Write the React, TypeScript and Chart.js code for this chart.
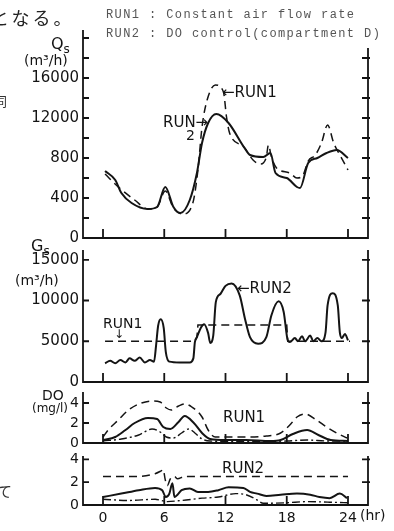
import React, { useEffect, useRef } from "react";
import { Chart, registerables } from "chart.js";

Chart.register(...registerables);

// ---------- data (hours of day) ----------
const X_TICKS = [0, 6, 12, 18, 24];
const X_LABELS = ["0", "6", "12", "18", "24"];

// Qs (m3/h)
const QS_Y_TICKS = [0, 4000, 8000, 12000, 16000];
const QS_Y_LABELS = ["0", "400", "800", "12000", "16000"];
const QS_MINOR = [2000, 4000, 6000, 8000, 10000, 12000, 14000, 16000, 18000, 20000];
const qsRun1Hours = [0.2, 1.5, 3.1, 4.4, 5.3, 6.1, 6.9, 7.8, 8.8, 9.3, 9.7, 10.2, 11, 11.8, 12.1, 12.4, 13.8, 14.7, 15.4, 16.0, 16.2, 16.5, 17, 18.3, 19, 19.6, 20.1, 20.8, 21.4, 22, 22.6, 23.1, 24];
const qsRun1 = [6400, 5100, 3800, 2900, 3100, 4700, 3000, 2400, 3500, 6800, 11100, 13800, 15300, 14600, 12100, 10500, 9100, 7800, 7400, 8100, 9300, 8100, 7000, 6500, 6000, 6300, 7700, 8300, 9500, 11300, 9500, 8500, 6800];
const qsRun2Hours = [0.2, 1.2, 1.8, 2.8, 4.4, 5.3, 6.1, 6.9, 7.6, 8.5, 9.2, 9.7, 10.3, 11.1, 12.3, 13.8, 14.4, 15.7, 16.4, 16.9, 18, 19, 19.3, 20.1, 21, 21.9, 22.9, 24];
const qsRun2 = [6700, 5800, 4500, 3500, 2900, 3100, 5100, 3100, 2500, 3800, 6500, 9500, 11500, 12400, 11500, 9100, 8300, 8100, 8500, 6500, 6000, 5100, 5000, 7500, 8000, 8500, 8800, 8000];

// Gs (m3/h)
const GS_Y_TICKS = [0, 5000, 10000, 15000];
const GS_Y_LABELS = ["0", "5000", "10000", "15000"];
const GS_MINOR = [5000, 10000, 15000];
const gsRun1Hours = [0.2, 9.0, 9.2, 9.3, 18.0, 18.1, 24.2];
const gsRun1 = [5000, 5000, 5500, 7000, 7000, 5000, 5000];
const gsRun2Hours = [0.2, 0.7, 1.2, 1.7, 2.2, 2.6, 3.1, 3.6, 4.1, 4.6, 5.0, 5.2, 5.4, 5.65, 5.95, 6.15, 6.5, 7.5, 8.5, 8.85, 9.0, 9.2, 9.6, 9.9, 10.3, 10.5, 10.8, 11.05, 11.5, 12.0, 12.6, 13.4, 13.9, 14.4, 15.2, 16, 16.5, 17.2, 17.7, 18.1, 18.3, 18.8, 19.1, 19.5, 19.8, 20.3, 20.6, 21, 21.4, 21.8, 22.0, 22.5, 23.0, 23.2, 23.4, 23.7, 24];
const gsRun2 = [2300, 2600, 2300, 2700, 2400, 2900, 2600, 3000, 2400, 2700, 2500, 4500, 6900, 7700, 6600, 3700, 2500, 2400, 2400, 2900, 4900, 5500, 6700, 7100, 6000, 4800, 5700, 9800, 10800, 11800, 12100, 10600, 7800, 5500, 4700, 5500, 8200, 9900, 8600, 5100, 4900, 5400, 5000, 5600, 5000, 5700, 5000, 5400, 5000, 6100, 9400, 10900, 9400, 6100, 5400, 5900, 5100];

// DO (mg/l)
const DO_Y_TICKS = [0, 2, 4];
const DO_Y_LABELS = ["0", "2", "4"];
const DO_MINOR = [2, 4];
const do1DashHours = [0, 0.5, 1.5, 2.5, 3.5, 4.8, 5.6, 6.2, 6.7, 7.4, 8.0, 8.7, 9.7, 10.3, 11, 12.45, 14.4, 16, 17.4, 18.3, 19, 19.8, 20.9, 21.9, 22.9, 23.9];
const do1Dash = [0.6, 1.3, 2.3, 3.3, 3.9, 4.2, 4.1, 3.5, 3.3, 3.7, 3.9, 3.6, 2.6, 1.3, 0.6, 0.6, 0.6, 0.7, 1.0, 1.8, 2.6, 2.9, 2.3, 1.6, 1.0, 0.5];
const do1SolidHours = [0, 1.2, 2.2, 3.1, 4.4, 5.3, 5.9, 6.6, 7.4, 8.0, 8.9, 9.7, 10.5, 12, 14, 16.4, 17.4, 18.6, 20, 21.1, 22.3, 24];
const do1Solid = [0.3, 0.6, 1.3, 2.0, 2.5, 2.4, 1.6, 1.4, 2.1, 2.7, 2.0, 1.0, 0.4, 0.3, 0.3, 0.2, 0.3, 0.9, 1.3, 0.8, 0.3, 0.2];
const do1DotHours = [0, 1.8, 3.5, 4.8, 5.6, 6.2, 6.9, 7.7, 8.4, 9.0, 9.7, 10.5, 14, 18, 20, 22, 24];
const do1Dot = [0.2, 0.4, 0.8, 1.4, 1.1, 0.6, 0.5, 1.0, 1.4, 1.0, 0.4, 0.2, 0.15, 0.2, 0.3, 0.2, 0.2];

const do2DashHours = [0, 3, 5.1, 5.7, 5.9, 6.1, 6.3, 6.6, 7.0, 7.3, 8, 12, 18, 24];
const do2Dash = [2.5, 2.5, 2.75, 3.0, 3.1, 2.2, 1.7, 2.3, 2.5, 2.3, 2.5, 2.5, 2.5, 2.5];
const do2SolidHours = [0, 1.8, 3.5, 5.1, 5.8, 6.15, 6.5, 6.7, 6.8, 7.0, 7.3, 7.7, 8.5, 9.3, 10.3, 11.3, 12.3, 13.75, 14.4, 15.1, 16, 17.4, 19, 20.3, 21.2, 22.2, 23.2, 23.9];
const do2Solid = [0.7, 1.0, 1.3, 1.5, 1.3, 0.7, 1.0, 1.7, 1.9, 0.7, 0.9, 1.3, 1.45, 1.15, 1.15, 1.3, 1.55, 1.5, 1.15, 1.0, 0.8, 0.9, 1.0, 0.9, 0.7, 0.6, 1.0, 0.6];
const do2DotHours = [0, 2.5, 5.1, 6.3, 7.7, 9.7, 11.3, 13, 14, 15, 15.7, 18, 20, 22, 24];
const do2Dot = [0.5, 0.4, 0.5, 0.3, 0.4, 0.6, 0.7, 1.0, 0.9, 0.5, 0.15, 0.2, 0.3, 0.25, 0.2];

// ---------- styling ----------
const INK = "#141414";
const X_MIN = -1.96;
const X_MAX = 25.96;
const AXIS_W = 83;
const RIGHT_PAD = 26;
const FONT = "DejaVu Sans";

const pts = (xs: number[], ys: number[]) => xs.map((x, i) => ({ x, y: ys[i] }));
const solid = (xs: number[], ys: number[]) => ({
  data: pts(xs, ys), borderColor: INK, borderWidth: 2, pointRadius: 0,
  cubicInterpolationMode: "monotone" as const, fill: false,
});
const dashed = (xs: number[], ys: number[], straight = false) => ({
  data: pts(xs, ys), borderColor: INK, borderWidth: 1.5, pointRadius: 0,
  borderDash: [8, 5], fill: false,
  ...(straight ? { tension: 0 } : { cubicInterpolationMode: "monotone" as const }),
});
const dashDot = (xs: number[], ys: number[]) => ({
  data: pts(xs, ys), borderColor: INK, borderWidth: 1.4, pointRadius: 0,
  borderDash: [8, 3, 2, 3], cubicInterpolationMode: "monotone" as const, fill: false,
});

const framePlugin = (sideTicks: number[], rightTopPx: number) => ({
  id: "frame",
  afterDatasetsDraw(chart: any) {
    const { ctx, chartArea } = chart;
    const { left, right, top, bottom } = chartArea;
    const xs = chart.scales.x;
    const ys = chart.scales.y;
    const rTop = Math.max(top, rightTopPx);
    ctx.save();
    ctx.strokeStyle = INK;
    ctx.lineWidth = 1.8;
    ctx.beginPath();
    ctx.moveTo(left, top);
    ctx.lineTo(left, bottom);
    ctx.lineTo(right, bottom);
    ctx.lineTo(right, rTop);
    for (const v of sideTicks) {
      const py = ys.getPixelForValue(v);
      ctx.moveTo(left, py);
      ctx.lineTo(left + 6, py);
      if (py >= rTop) {
        ctx.moveTo(right - 6, py);
        ctx.lineTo(right + 2, py);
      }
    }
    for (const v of X_TICKS) {
      const px = xs.getPixelForValue(v);
      ctx.moveTo(px, bottom);
      ctx.lineTo(px, bottom - 9);
    }
    ctx.stroke();
    ctx.restore();
  },
});

type PanelProps = {
  top: number; height: number; chartTop: number; chartBottom: number;
  yMax: number; yTicks: number[]; yLabels: string[]; minor: number[];
  datasets: any[]; showX: boolean; fontSize: number; rightTop?: number;
};

function Panel(p: PanelProps) {
  const ref = useRef<HTMLCanvasElement>(null);
  useEffect(() => {
    if (!ref.current) return;
    const font = { family: FONT, size: p.fontSize };
    const chart = new Chart(ref.current, {
      type: "line",
      data: { datasets: p.datasets },
      options: {
        animation: false,
        responsive: false,
        maintainAspectRatio: false,
        layout: { padding: { left: 0, right: RIGHT_PAD, top: p.chartTop, bottom: 0 } },
        plugins: { legend: { display: false }, tooltip: { enabled: false } },
        scales: {
          x: {
            type: "linear", min: X_MIN, max: X_MAX,
            grid: { display: false, drawTicks: false }, border: { display: false },
            afterBuildTicks: (s: any) => { s.ticks = X_TICKS.map((v) => ({ value: v })); },
            ticks: {
              display: p.showX, autoSkip: false, maxRotation: 0, padding: 5,
              color: INK, font: { family: FONT, size: 14 },
              callback: (v: any) => X_LABELS[X_TICKS.indexOf(Number(v))] ?? "",
            },
            afterFit: (s: any) => { s.height = p.height - p.chartBottom; s.paddingLeft = 0; s.paddingRight = 0; },
          },
          y: {
            type: "linear", min: 0, max: p.yMax,
            grid: { display: false, drawTicks: false }, border: { display: false },
            afterBuildTicks: (s: any) => { s.ticks = p.yTicks.map((v) => ({ value: v })); },
            ticks: {
              autoSkip: false, padding: 4, color: INK, font,
              callback: (v: any) => p.yLabels[p.yTicks.indexOf(Number(v))] ?? "",
            },
            afterFit: (s: any) => { s.width = AXIS_W; s.paddingTop = 0; s.paddingBottom = 0; },
          },
        },
      } as any,
      plugins: [framePlugin(p.minor, p.rightTop ?? 0)],
    });
    return () => chart.destroy();
  }, []);
  return (
    <canvas
      ref={ref}
      width={394}
      height={p.height}
      style={{ position: "absolute", left: 0, top: p.top, width: 394, height: p.height, display: "block" }}
    />
  );
}

function T(props: { x: number; y: number; size?: number; family?: string; color?: string; ls?: number; children: any; weight?: number }) {
  const size = props.size ?? 15;
  return (
    <div
      style={{
        position: "absolute", left: props.x, top: props.y - size / 2, fontSize: size,
        lineHeight: `${size}px`, fontFamily: props.family ?? FONT, color: props.color ?? INK,
        whiteSpace: "nowrap", letterSpacing: props.ls ?? 0, fontWeight: props.weight ?? 400,
      }}
    >
      {props.children}
    </div>
  );
}

export default function App() {
  return (
    <div style={{ position: "fixed", left: 0, top: 0, width: 394, height: 531, background: "#fff", overflow: "hidden" }}>
      <Panel top={0} height={250} chartTop={30} chartBottom={238} yMax={20800} rightTop={48}
        yTicks={QS_Y_TICKS} yLabels={QS_Y_LABELS} minor={QS_MINOR} fontSize={15} showX={false}
        datasets={[dashed(qsRun1Hours, qsRun1), solid(qsRun2Hours, qsRun2)]} />
      <Panel top={244} height={146} chartTop={6} chartBottom={138} yMax={16200}
        yTicks={GS_Y_TICKS} yLabels={GS_Y_LABELS} minor={GS_MINOR} fontSize={15} showX={false}
        datasets={[dashed(gsRun1Hours, gsRun1, true), solid(gsRun2Hours, gsRun2)]} />
      <Panel top={386} height={65} chartTop={6} chartBottom={57} yMax={5.1}
        yTicks={DO_Y_TICKS} yLabels={DO_Y_LABELS} minor={DO_MINOR} fontSize={14} showX={false}
        datasets={[dashed(do1DashHours, do1Dash), solid(do1SolidHours, do1Solid), dashDot(do1DotHours, do1Dot)]} />
      <Panel top={448} height={83} chartTop={8} chartBottom={57} yMax={4.3}
        yTicks={DO_Y_TICKS} yLabels={DO_Y_LABELS} minor={DO_MINOR} fontSize={14} showX={true}
        datasets={[dashed(do2DashHours, do2Dash), solid(do2SolidHours, do2Solid), dashDot(do2DotHours, do2Dot)]} />

      {/* header */}
      <T x={-9} y={17} size={18} family="Noto Sans CJK JP" ls={3} color="#222">となる。</T>
      <T x={106} y={15} size={12} family="Liberation Mono" ls={1.4} color="#555">RUN1 : Constant air flow rate</T>
      <T x={106} y={34} size={12} family="Liberation Mono" ls={1.4} color="#555">RUN2 : DO control(compartment D)</T>
      <T x={-6} y={100} size={13} family="Noto Sans CJK JP" color="#333">同</T>
      <T x={-3} y={490} size={15} family="Noto Sans CJK JP" color="#333">て</T>

      {/* axis titles */}
      <T x={51} y={44} size={16}>Q<span style={{ fontSize: 12, position: "relative", top: 4 }}>s</span></T>
      <T x={24} y={60} size={14}>(m³/h)</T>
      <T x={31} y={246} size={16}>G<span style={{ fontSize: 12, position: "relative", top: 4 }}>s</span></T>
      <T x={15} y={280} size={14}>(m³/h)</T>
      <T x={42} y={395} size={14}>DO</T>
      <T x={32} y={408} size={12}>(mg/l)</T>
      <T x={360} y={515} size={14}>(hr)</T>

      {/* annotations */}
      <T x={222} y={92} size={15}>←RUN1</T>
      <T x={163} y={122} size={15}>RUN→</T>
      <T x={186} y={135} size={14}>2</T>
      <T x={237} y={288} size={15}>←RUN2</T>
      <T x={103} y={323} size={14}>RUN1</T>
      <T x={114} y={334} size={12}>↓</T>
      <T x={223} y={417} size={15}>RUN1</T>
      <T x={222} y={468} size={15}>RUN2</T>
    </div>
  );
}
